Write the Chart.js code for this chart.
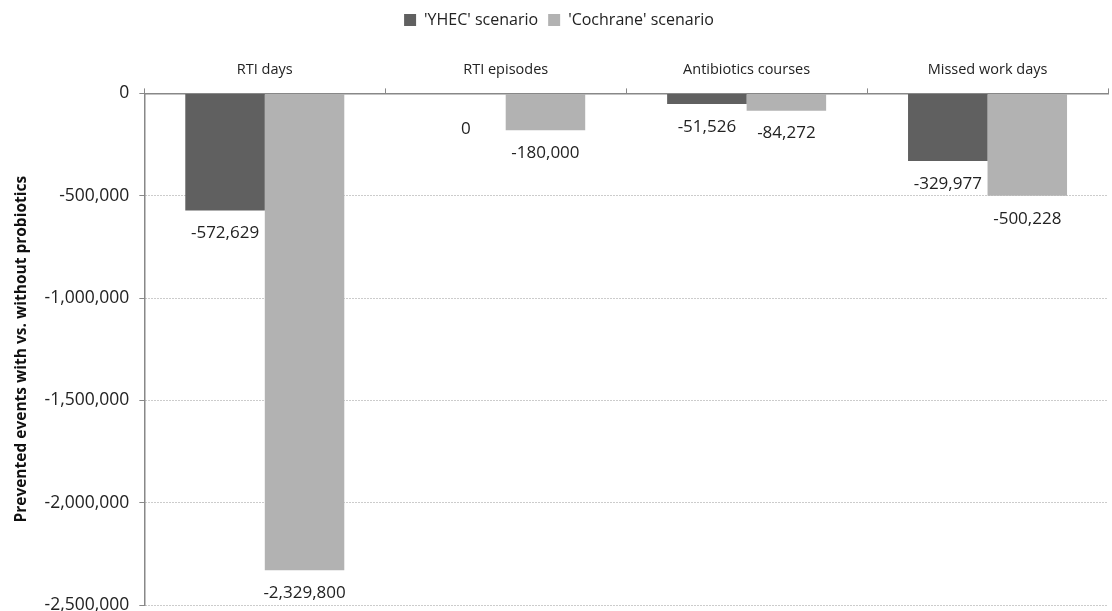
<!DOCTYPE html>
<html>
<head>
<meta charset="utf-8">
<script src="https://cdn.jsdelivr.net/npm/chart.js@4.4.1/dist/chart.umd.min.js"></script>
<style>
  body { margin: 0; background: #fff; }
  #wrap { width: 1112px; height: 611px; }
</style>
</head>
<body>
<div id="wrap"><canvas id="chart"></canvas></div>
<script>
'use strict'

let categories = ['RTI days', 'RTI episodes', 'Antibiotics courses', 'Missed work days'];
let yhecValues = [-572629, 0, -51526, -329977];
let cochraneValues = [-2329800, -180000, -84272, -500228];
let seriesNames = ["'YHEC' scenario", "'Cochrane' scenario"];
let yTicks = [0, -500000, -1000000, -1500000, -2000000, -2500000];

let fontFamily = "'Open Sans', 'DejaVu Sans', sans-serif";

// labels under the end of each bar, like the Excel original
let barLabels = {
    id: 'barLabels',
    afterDatasetsDraw(chart) {
        let ctx = chart.ctx;
        ctx.save();
        ctx.font = '17px ' + fontFamily;
        ctx.fillStyle = '#222';
        ctx.textAlign = 'center';
        ctx.textBaseline = 'middle';
        chart.data.datasets.forEach((ds, di) => {
            let meta = chart.getDatasetMeta(di);
            meta.data.forEach((bar, i) => {
                let v = ds.data[i];
                let y = bar.y + 23;
                if (v === 0) y = bar.y + 36;
                ctx.fillText(v.toLocaleString('en-US'), bar.x, y);
            });
        });
        ctx.restore();
    }
};

// extra room between legend and the category labels
let legendGap = {
    id: 'legendGap',
    beforeInit(chart) {
        let origFit = chart.legend.fit;
        chart.legend.fit = function () {
            origFit.bind(chart.legend)();
            this.height += 13;
        };
    }
};

let canvasElem = document.getElementById('chart');

new Chart(canvasElem, {
    type: 'bar',
    data: {
        labels: categories,
        datasets: [{
            label: seriesNames[0],
            data: yhecValues,
            backgroundColor: '#606060',
            barPercentage: 1.0,
            categoryPercentage: 0.66
        },
        {
            label: seriesNames[1],
            data: cochraneValues,
            backgroundColor: '#b2b2b2',
            barPercentage: 1.0,
            categoryPercentage: 0.66
        }]
    },
    options: {
        responsive: true,
        maintainAspectRatio: false,
        animation: false,
        layout: { padding: { left: 10, right: 4, top: 2, bottom: 0 } },
        scales: {
            x: {
                position: 'top',
                offset: true,
                grid: {
                    offset: true,
                    drawOnChartArea: false,
                    tickLength: 5,
                    color: '#888'
                },
                border: { color: '#888', width: 1.5 },
                ticks: {
                    color: '#222',
                    font: { family: fontFamily, size: 14.5 },
                    padding: 10
                }
            },
            y: {
                min: -2500000,
                max: 0,
                afterBuildTicks(axis) {
                    axis.ticks = yTicks.map(v => ({ value: v }));
                },
                afterFit(scale) {
                    scale.paddingBottom = 6;
                },
                grid: {
                    color: '#999',
                    tickLength: 5,
                    tickColor: '#888'
                },
                border: { color: '#888', width: 1.5, dash: [1, 2] },
                ticks: {
                    color: '#222',
                    font: { family: fontFamily, size: 17.5 },
                    padding: 10,
                    callback: v => v.toLocaleString('en-US')
                },
                title: {
                    display: true,
                    text: 'Prevented events with vs. without probiotics',
                    color: '#111',
                    font: { family: fontFamily, size: 15.5, weight: 'bold' },
                    padding: { top: 2, bottom: 4 }
                }
            }
        },
        plugins: {
            legend: {
                position: 'top',
                labels: {
                    boxWidth: 12,
                    boxHeight: 12,
                    padding: 10,
                    color: '#222',
                    font: { family: fontFamily, size: 16 }
                }
            },
            tooltip: { enabled: false }
        }
    },
    plugins: [barLabels, legendGap]
});
</script>
</body>
</html>
